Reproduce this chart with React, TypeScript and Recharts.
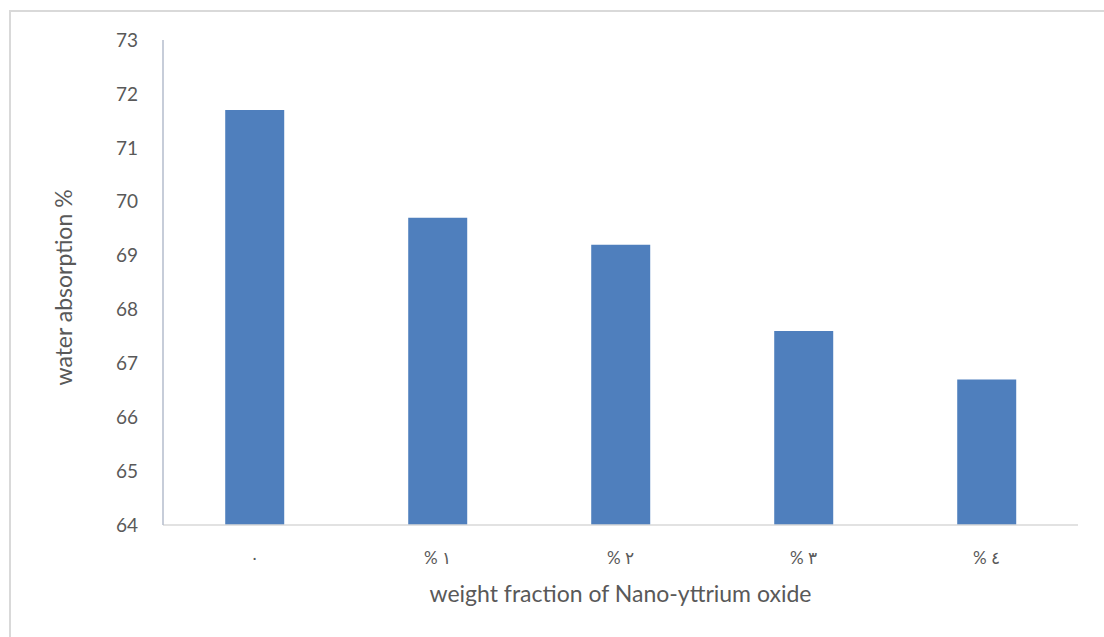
import { Bar, BarChart, XAxis, YAxis } from "recharts";

const categories = ["٠", "% ١", "% ٢", "% ٣", "% ٤"];
const absorption = [71.7, 69.7, 69.2, 67.6, 66.7];
const yTicks = [64, 65, 66, 67, 68, 69, 70, 71, 72, 73];

const data = categories.map((c, i) => ({ name: c, value: absorption[i] }));

const FONT = "Lato, 'DejaVu Sans', sans-serif";
const TICK = { fill: "#595959", fontSize: 19, fontFamily: FONT };

export default function App() {
  return (
    <div style={{ position: "fixed", left: 0, top: 0, width: 1104, height: 637, background: "#fff", overflow: "hidden" }}>
      <div
        style={{
          position: "absolute",
          left: 9,
          top: 10,
          width: 1120,
          height: 660,
          borderLeft: "2px solid #d9d9d9",
          borderTop: "2px solid #d9d9d9",
        }}
      />
      <div style={{ position: "absolute", left: 0, top: 0 }}>
        <BarChart
          width={1104}
          height={637}
          data={data}
          margin={{ top: 40, right: 26, bottom: 82, left: 103 }}
          barCategoryGap="34%"
        >
          <XAxis
            dataKey="name"
            tick={{ ...TICK, fontSize: 17 }}
            tickLine={false}
            axisLine={{ stroke: "#d9d9d9", strokeWidth: 1.5 }}
            tickMargin={21}
            label={{
              value: "weight fraction of Nano-yttrium oxide",
              position: "insideBottom",
              offset: -47,
              fill: "#595959",
              fontSize: 23,
              fontFamily: FONT,
            }}
          />
          <YAxis
            domain={[64, 73]}
            ticks={yTicks}
            interval={0}
            width={60}
            tick={TICK}
            tickLine={false}
            axisLine={{ stroke: "#b4bccc", strokeWidth: 1.5 }}
            tickMargin={19}
            label={{
              value: "water absorption %",
              angle: -90,
              position: "center",
              dx: -69,
              dy: 5,
              fill: "#595959",
              fontSize: 23,
              fontFamily: FONT,
            }}
          />
          <Bar dataKey="value" fill="#4f7fbd" isAnimationActive={false} />
        </BarChart>
      </div>
    </div>
  );
}
